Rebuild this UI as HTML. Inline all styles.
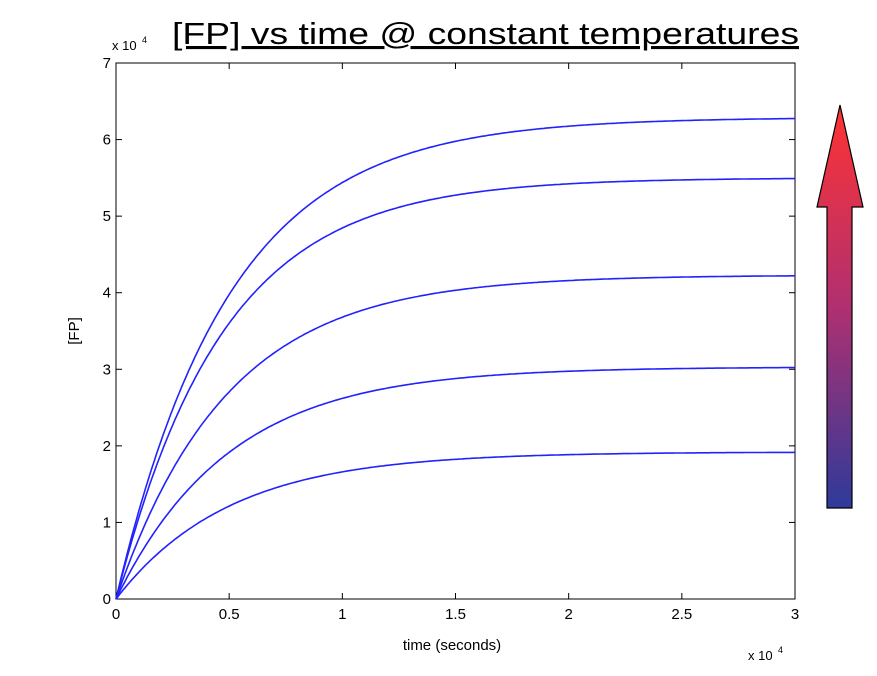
<!DOCTYPE html>
<html><head><style>
body{margin:0;background:#fff;width:877px;height:671px;overflow:hidden;font-family:"Liberation Sans",sans-serif;}
</style></head><body>
<svg width="877" height="671" xmlns="http://www.w3.org/2000/svg" font-family="Liberation Sans, sans-serif">
<defs><linearGradient id="g" x1="0" y1="0" x2="0" y2="1">
<stop offset="0" stop-color="#ff3333"/><stop offset="0.5" stop-color="#b03070"/><stop offset="1" stop-color="#2e3a9a"/></linearGradient></defs>
<text x="172" y="44" font-size="31" fill="#000" text-decoration="underline" textLength="627" lengthAdjust="spacingAndGlyphs">[FP] vs time @ constant temperatures</text>
<rect x="116" y="63" width="679" height="536" fill="none" stroke="#000" stroke-width="1"/>
<g id="ticks" stroke="#000"></g>
<g font-size="15" fill="#000" id="labels"></g>
<text x="112" y="50" font-size="13">x 10</text><text x="142" y="43" font-size="9">4</text>
<text x="748" y="660" font-size="13">x 10</text><text x="778" y="653" font-size="9">4</text>
<text x="452" y="650" font-size="15" text-anchor="middle">time (seconds)</text>
<text x="79" y="331" font-size="15" text-anchor="middle" transform="rotate(-90 79 331)">[FP]</text>
<g id="curves" fill="none" stroke="#2222ff" stroke-width="1.6"></g>
<polygon points="840,105 863,207 852,207 852,508 827,508 827,207 817,207" fill="url(#g)" stroke="#000" stroke-width="1.2"/>
</svg>
<script>
var ns="http://www.w3.org/2000/svg";
function el(p,t,a,txt){var e=document.createElementNS(ns,t);for(var k in a)e.setAttribute(k,a[k]);if(txt!=null)e.textContent=txt;document.getElementById(p).appendChild(e);}
var x0=116,x1=795,y0=599,y1=63;
for(var i=0;i<=7;i++){var y=y0-(y0-y1)*i/7;
 el("ticks","line",{x1:x0,y1:y,x2:x0+6,y2:y});el("ticks","line",{x1:x1,y1:y,x2:x1-6,y2:y});
 el("labels","text",{x:x0-5,y:y+5,"text-anchor":"end"},String(i));}
var xs=["0","0.5","1","1.5","2","2.5","3"];
for(var i=0;i<=6;i++){var x=x0+(x1-x0)*i/6;
 el("ticks","line",{x1:x,y1:y0,x2:x,y2:y0-6});el("ticks","line",{x1:x,y1:y1,x2:x,y2:y1+6});
 el("labels","text",{x:x,y:y0+20,"text-anchor":"middle"},xs[i]);}
var A=[6.29,5.5,4.23,3.03,1.92],T=[0.5,0.47,0.49,0.5,0.5];
for(var c=0;c<5;c++){var p=[];for(var t=0;t<=3.0001;t+=0.01){var v=A[c]*(1-Math.exp(-t/T[c]));p.push((x0+(x1-x0)*t/3).toFixed(1)+","+(y0-(y0-y1)*v/7).toFixed(1));}
 el("curves","polyline",{points:p.join(" ")});}
</script>
</body></html>
